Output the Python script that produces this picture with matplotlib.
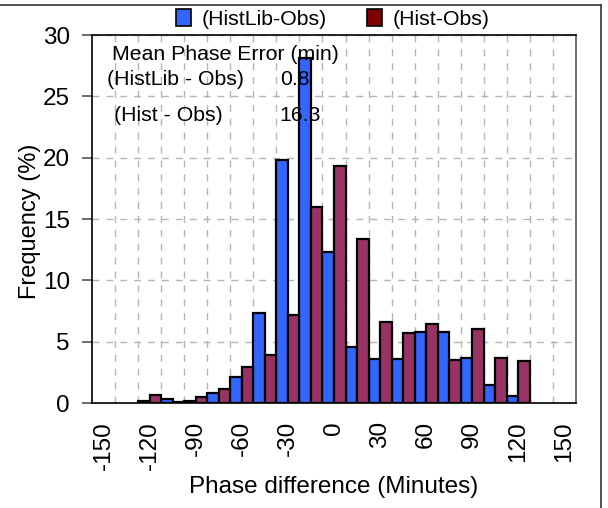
import numpy as np
import matplotlib
matplotlib.use('Agg')
import matplotlib.pyplot as plt
from matplotlib.patches import Patch
from matplotlib.lines import Line2D

plt.rcParams['font.family'] = ['Liberation Sans', 'DejaVu Sans']

# Dados (frequencia em % por classe de 15 minutos)
classes = np.arange(-120, 121, 15)
histlib_obs = [0.2, 0.35, 0.2, 0.8, 2.1, 7.3, 19.8, 28.1, 12.3, 4.6, 3.6, 3.6, 5.8, 5.8, 3.7, 1.5, 0.6]
hist_obs = [0.65, 0.1, 0.5, 1.15, 2.9, 3.9, 7.15, 16.0, 19.3, 13.4, 6.6, 5.7, 6.4, 3.5, 6.0, 3.7, 3.4]
ticks_x = np.arange(-150, 151, 30)
ticks_y = np.arange(0, 31, 5)
erro_medio = {'(HistLib - Obs)': '0.8', '(Hist - Obs)': '16.3'}

cor_azul = '#3366FF'
cor_verm = '#993366'
cor_leg = '#7F0000'
larg = 7.5

fig = plt.figure(figsize=(6.08, 5.08), dpi=100)
ax = fig.add_axes([92/608, 1-403/508, 484/608, 368/508])

ax.bar(classes - larg/2, histlib_obs, width=larg, color=cor_azul, edgecolor='black', linewidth=1.6)
ax.bar(classes + larg/2, hist_obs, width=larg, color=cor_verm, edgecolor='black', linewidth=1.6)

ax.set_xlim(-157.5, 157.5)
ax.set_ylim(0, 30)
ax.set_xticks(ticks_x)
ax.set_xticklabels([str(t) for t in ticks_x], rotation=90)
ax.set_xticks(np.arange(-142.5, 143, 15), minor=True)
ax.set_yticks(ticks_y)

ax.tick_params(axis='x', which='both', length=0, pad=13, labelsize=17.5)
ax.tick_params(axis='y', which='major', direction='out', length=7, width=1.2,
               color='#555555', pad=9, labelsize=17.5)

# grade tracejada
ax.set_axisbelow(True)
ax.grid(True, axis='x', which='minor', linestyle=(0, (5, 5)), color='#b5b5b5', linewidth=1)
ax.grid(True, axis='y', which='major', linestyle=(0, (5, 5)), color='#b5b5b5', linewidth=1)
ax.grid(False, axis='x', which='major')

for s in ['left', 'bottom', 'top']:
    ax.spines[s].set_color('black')
    ax.spines[s].set_linewidth(1.2)
ax.spines['right'].set_color('#555555')
ax.spines['right'].set_linewidth(1.2)

ax.set_xlabel('Phase difference (Minutes)', fontsize=17.5)
ax.xaxis.set_label_coords(0.5, (403-476)/368)
ax.set_ylabel('Frequency (%)', fontsize=17)
ax.yaxis.set_label_coords((41-92)/484, 0.495)

# texto do erro medio
ax.text(0.041, 0.932, 'Mean Phase Error (min)', transform=ax.transAxes, fontsize=15.3, va='baseline')
ys = [0.864, 0.767]
xs = [0.031, 0.045]
for (nome, val), y, x in zip(erro_medio.items(), ys, xs):
    ax.text(x, y, nome, transform=ax.transAxes, fontsize=15.3, va='baseline')
    ax.text(0.388, y, val, transform=ax.transAxes, fontsize=15.3, va='baseline')

# legenda
handles = [Patch(facecolor=cor_azul, edgecolor='black', linewidth=1.2, label='(HistLib-Obs)'),
           Patch(facecolor=cor_leg, edgecolor='black', linewidth=1.2, label='(Hist-Obs)')]
fig.legend(handles=handles, loc='center', bbox_to_anchor=(333/608, 1-19/508), ncol=2,
           frameon=False, fontsize=15.3, handlelength=0.7, handleheight=0.8,
           handletextpad=0.5, columnspacing=1.9, borderpad=0)

# moldura da figura (topo e direita)
fig.add_artist(Line2D([0, 601/608], [1-5/508, 1-5/508], transform=fig.transFigure, color='#333333', linewidth=1.2))
fig.add_artist(Line2D([601/608, 601/608], [0, 1-5/508], transform=fig.transFigure, color='#333333', linewidth=1.2))

fig.savefig('out.png', dpi=100)
